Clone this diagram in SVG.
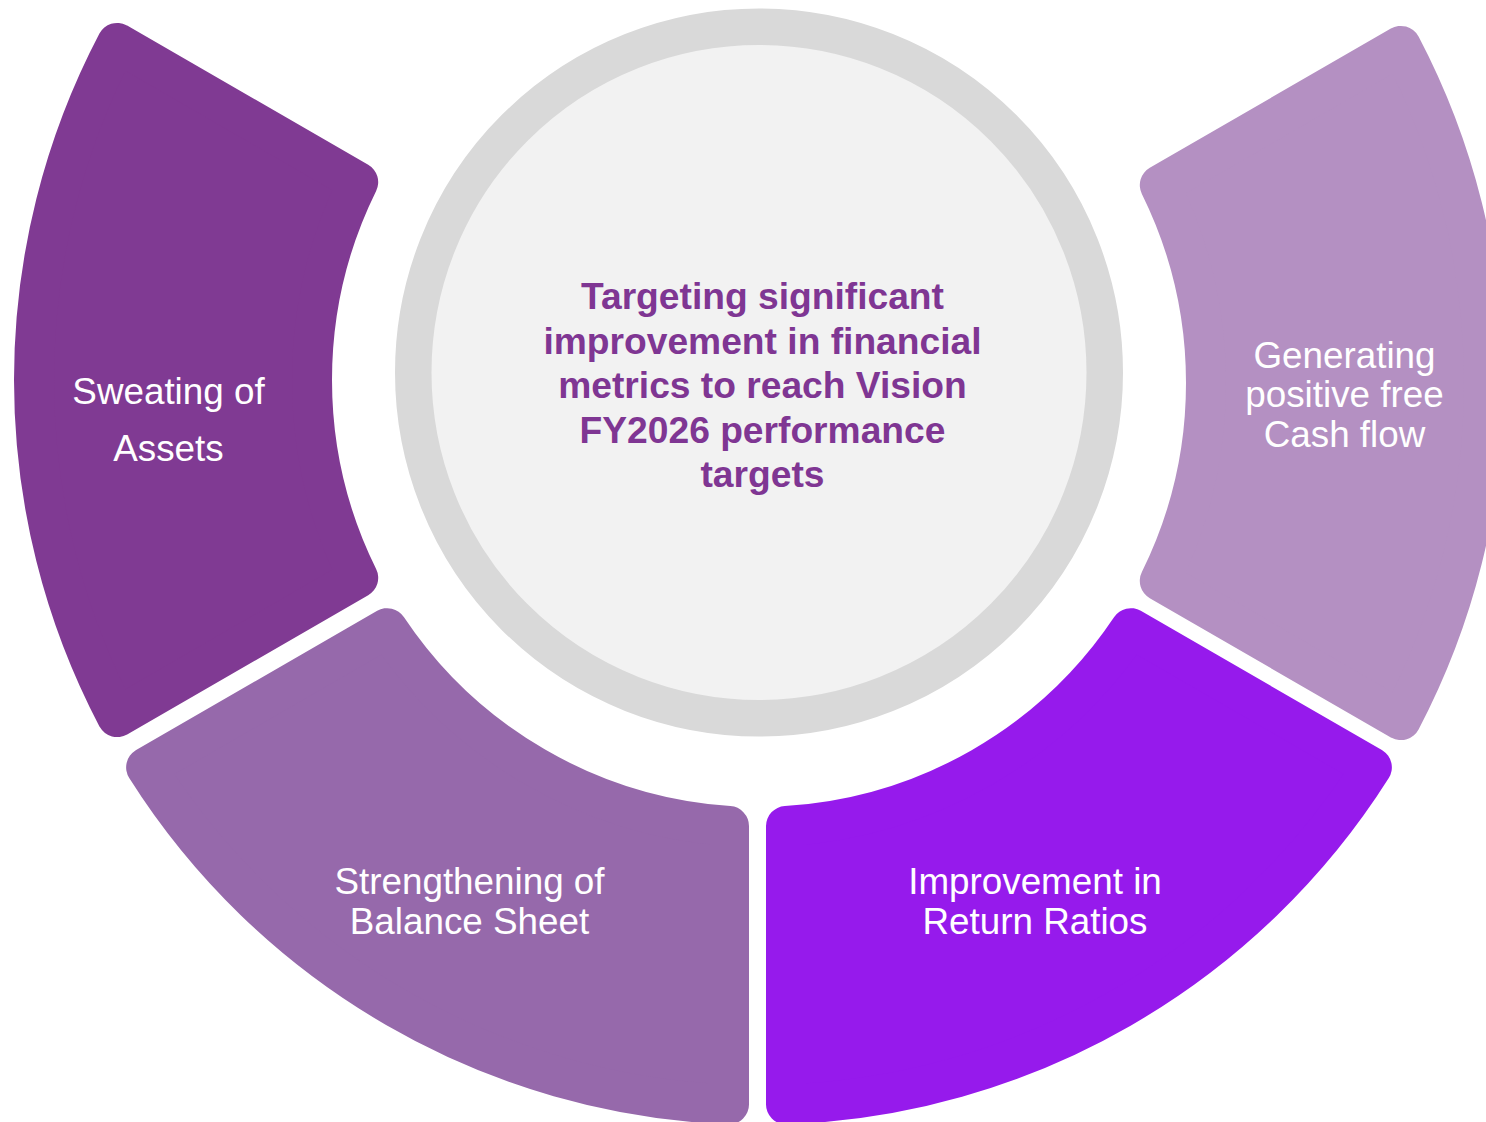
<svg xmlns="http://www.w3.org/2000/svg" width="1486" height="1122" viewBox="0 0 1486 1122">
<style>
.seg{stroke-width:40;stroke-linejoin:round}
.s1{fill:#803A93;stroke:#803A93}
.s2{fill:#9669AB;stroke:#9669AB}
.s3{fill:#961AEC;stroke:#961AEC}
.s4{fill:#B490C2;stroke:#B490C2}
.lbl{font-family:"Liberation Sans",Arial,sans-serif;font-size:36.8px;fill:#FFFFFF;text-anchor:middle}
.ctr{font-family:"Liberation Sans",Arial,sans-serif;font-size:37.2px;font-weight:bold;fill:#7F3693;text-anchor:middle}
</style>
<rect width="1486" height="1122" fill="#FFFFFF"/>
<g id="node-sweating">
<path class="seg s1" d="M117.14,717.10 A725,725 0 0 1 117.14,42.90 L358.20,182.09 A447,447 0 0 0 358.20,577.91 Z"/>
<text class="lbl" x="168.5" y="403.5">Sweating of</text>
<text class="lbl" x="168.5" y="460.5">Assets</text>
</g>
<g id="node-balance">
<path class="seg s2" d="M729,1104.42 A725,725 0 0 1 146.13,767.32 L387.20,628.15 A447,447 0 0 0 729,826.06 Z"/>
<text class="lbl" x="469.5" y="893.8">Strengthening of</text>
<text class="lbl" x="469.5" y="933.8">Balance Sheet</text>
</g>
<g id="node-return">
<path class="seg s3" d="M786,1104.42 A725,725 0 0 0 1371.87,767.32 L1130.80,628.15 A447,447 0 0 1 786,826.06 Z"/>
<text class="lbl" x="1035" y="893.8">Improvement in</text>
<text class="lbl" x="1035" y="933.8">Return Ratios</text>
</g>
<g id="node-cashflow">
<path class="seg s4" transform="translate(0,3)" d="M1400.86,42.90 A725,725 0 0 1 1400.86,717.10 L1159.80,577.91 A447,447 0 0 0 1159.80,182.09 Z"/>
<text class="lbl" x="1344.5" y="367.8">Generating</text>
<text class="lbl" x="1344.5" y="407.3">positive free</text>
<text class="lbl" x="1344.5" y="447">Cash flow</text>
</g>
<g id="node-center">
<circle cx="759" cy="372.5" r="345.75" fill="#F2F2F2" stroke="#D9D9D9" stroke-width="36.5"/>
<text class="ctr" x="762.5" y="309">Targeting significant</text>
<text class="ctr" x="762.5" y="353.6">improvement in financial</text>
<text class="ctr" x="762.5" y="398.2">metrics to reach Vision</text>
<text class="ctr" x="762.5" y="442.8">FY2026 performance</text>
<text class="ctr" x="762.5" y="487.4">targets</text>
</g>
</svg>
